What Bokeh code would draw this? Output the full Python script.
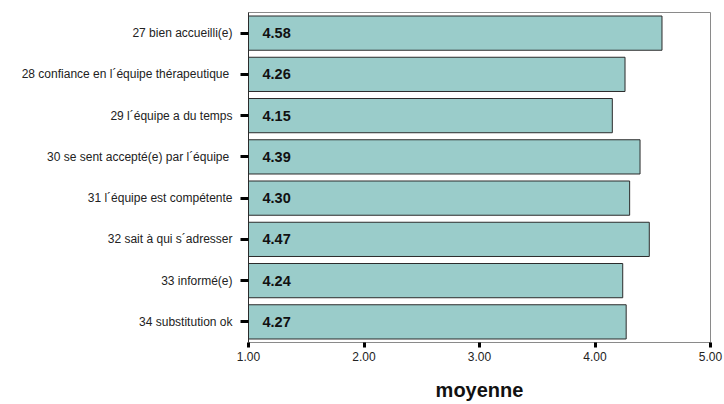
from bokeh.plotting import figure
from bokeh.models import ColumnDataSource, FactorRange, Range1d, FixedTicker, CustomJSTickFormatter
from bokeh.core.properties import value
from bokeh.embed import file_html
from bokeh.resources import INLINE

categories = [
    "27 bien accueilli(e)",
    "28 confiance en l\u00b4\u00e9quipe th\u00e9rapeutique ",
    "29 l\u00b4\u00e9quipe a du temps",
    "30 se sent accept\u00e9(e) par l\u00b4\u00e9quipe ",
    "31 l\u00b4\u00e9quipe est comp\u00e9tente",
    "32 sait \u00e0 qui s\u00b4adresser",
    "33 inform\u00e9(e)",
    "34 substitution ok",
]
means = [4.58, 4.26, 4.15, 4.39, 4.30, 4.47, 4.24, 4.27]
x_ticks = [1, 2, 3, 4, 5]
axis_min = 1.0
axis_max = 5.0

src = ColumnDataSource(dict(
    cat=categories,
    mean=means,
    base=[axis_min] * len(means),
    lbl=["%.2f" % v for v in means],
))

p = figure(
    width=724, height=404,
    y_range=FactorRange(*reversed(categories), range_padding=0),
    x_range=Range1d(axis_min, axis_max),
    output_backend="svg", toolbar_location=None,
    min_border_left=248, min_border_right=14, min_border_top=12, min_border_bottom=62,
)

p.hbar(y="cat", left="base", right="mean", height=0.83, source=src,
       fill_color="#9ACCCA", line_color="#2b2b2b", line_width=1)
p.text(x="base", y="cat", text="lbl", source=src, x_offset=14,
       text_baseline="middle", text_align="left",
       text_font=value("Liberation Sans"), text_font_style="bold",
       text_font_size="14.5px", text_color="#111111")

p.xgrid.visible = False
p.ygrid.visible = False
p.outline_line_color = "#8a8a8a"
p.background_fill_color = "white"
p.border_fill_color = "white"

xa = p.xaxis[0]
xa.ticker = FixedTicker(ticks=x_ticks)
xa.formatter = CustomJSTickFormatter(code="return tick.toFixed(2);")
xa.major_tick_out = 5
xa.major_tick_in = 0
xa.major_tick_line_width = 3
xa.major_tick_line_color = "#000000"
xa.minor_tick_line_color = None
xa.axis_line_color = "#8a8a8a"
xa.major_label_text_font = "Liberation Sans"
xa.major_label_text_font_size = "12px"
xa.major_label_text_color = "#222222"
xa.major_label_standoff = 4
xa.axis_label = "moyenne"
xa.axis_label_text_font = "Liberation Sans"
xa.axis_label_text_font_style = "bold"
xa.axis_label_text_font_size = "20px"
xa.axis_label_text_color = "#111111"
xa.axis_label_standoff = 15

ya = p.yaxis[0]
ya.major_tick_out = 8
ya.major_tick_in = 0
ya.major_tick_line_width = 3
ya.major_tick_line_color = "#000000"
ya.axis_line_color = "#2b2b2b"
ya.major_label_text_font = "Liberation Sans"
ya.major_label_text_font_size = "12px"
ya.major_label_text_color = "#222222"
ya.major_label_standoff = 8

open("out.html", "w").write(file_html(p, INLINE))
